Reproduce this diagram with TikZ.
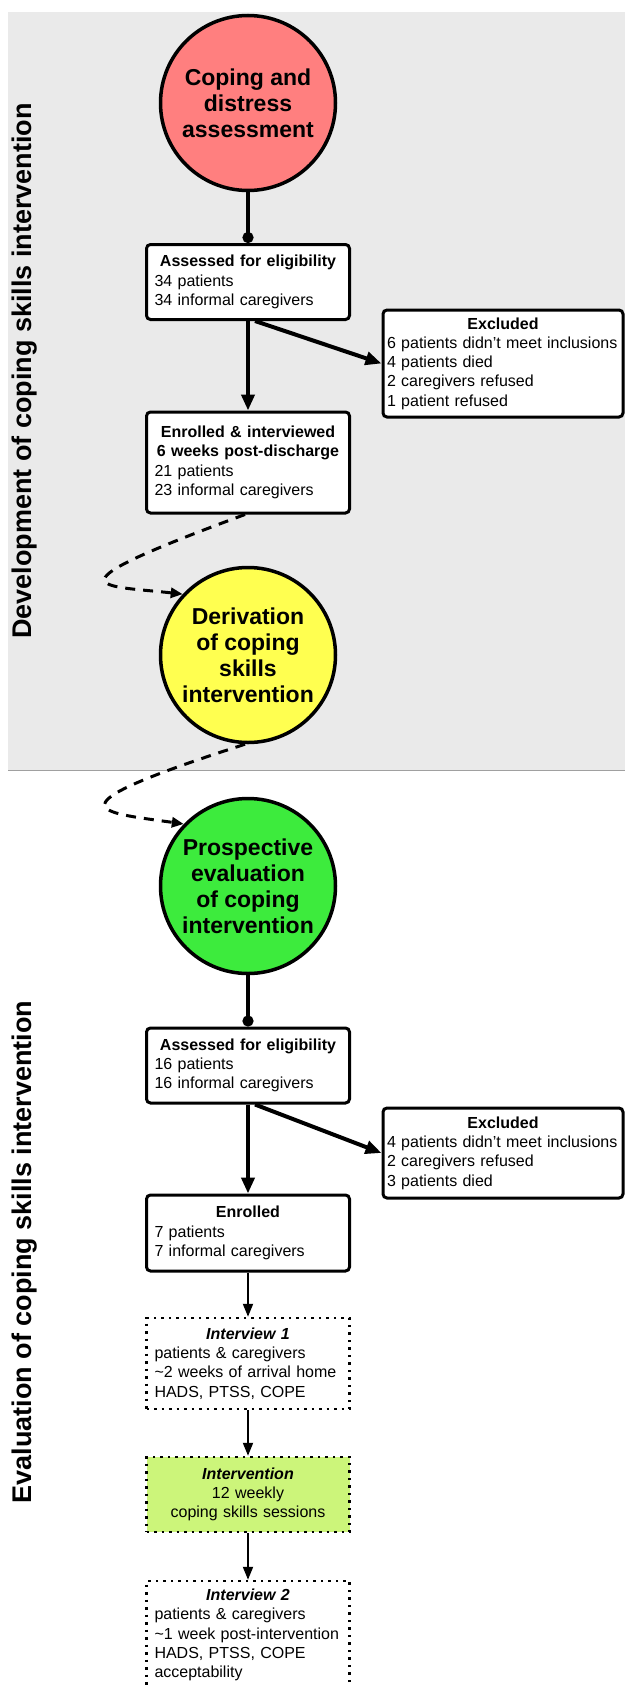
\documentclass[tikz,border=0pt]{standalone}
\usepackage{fontspec}
\setmainfont{Liberation Sans}
\usetikzlibrary{arrows.meta}
\definecolor{bggrey}{HTML}{EAEAEA}
\definecolor{sepgrey}{HTML}{A0A0A0}
\definecolor{redc}{HTML}{FF7F7F}
\definecolor{yelc}{HTML}{FFFF50}
\definecolor{grnc}{HTML}{3DEB3D}
\definecolor{limec}{HTML}{CCF57A}
\hyphenpenalty=10000
\exhyphenpenalty=10000
\newcommand\ctrline[1]{\hspace*{\fill}#1\hspace*{\fill}\null}
\begin{document}
\begin{tikzpicture}[x=1pt,y=-1pt,
  phase/.style={circle, draw=black, line width=3.5pt, minimum size=175pt, inner sep=0pt, align=center, font=\fontsize{23}{26}\selectfont\bfseries},
  solidbox/.style={draw=black, line width=3pt, rounded corners=4pt, fill=white, text width=187pt, inner xsep=8pt, inner ysep=0pt, align=left, font=\fontsize{16}{19.3}\selectfont},
  exclbox/.style={solidbox, text width=232pt, inner xsep=4pt},
  dotbox/.style={draw=black, line width=2.5pt, dash pattern=on 2.5pt off 5pt, fill=white, text width=187pt, inner xsep=8pt, inner ysep=0pt, align=left, font=\fontsize{16}{19.3}\selectfont},
  sidelabel/.style={rotate=90, font=\fontsize{27}{30}\selectfont\bfseries},
  thickarrow/.style={line width=4pt, -{Triangle[length=16pt,width=13pt]}},
  dotline/.style={line width=4pt, -{Circle[length=11pt]}},
  thinarrow/.style={line width=2pt, -{Triangle[length=13pt,width=10pt]}},
  dasharrow/.style={line width=3pt, dash pattern=on 10pt off 8pt, -{Triangle[length=12pt,width=10pt]}},
]
\useasboundingbox (0,0) rectangle (625,1686);
\clip (0,0) rectangle (625,1686);
\fill[bggrey] (8,12) rectangle (625,770);
\draw[sepgrey, line width=1pt] (8,770) -- (625,770);

\node[sidelabel] (lab1) at (25,371) {Development of coping skills intervention};
\node[sidelabel] (lab2) at (25,1252) {Evaluation of coping skills intervention};

\node[phase, fill=redc] (red) at (248,103) {Coping and\\distress\\assessment};
\node[solidbox, minimum height=75pt] (b1) at (248,282) {\ctrline{\textbf{Assessed for eligibility}}\\34 patients\\34 informal caregivers};
\node[exclbox, minimum height=107pt] (ex1) at (503,363.5) {\ctrline{\textbf{Excluded}}\\6 patients didn't meet inclusions\\4 patients died\\2 caregivers refused\\1 patient refused};
\node[solidbox, minimum height=101pt] (b2) at (248,462.5) {\ctrline{\textbf{Enrolled \& interviewed}}\\\ctrline{\textbf{6 weeks post-discharge}}\\21 patients\\23 informal caregivers};
\node[phase, fill=yelc] (yel) at (248,655) {Derivation\\of coping\\skills\\intervention};
\node[phase, fill=grnc] (grn) at (248,886) {Prospective\\evaluation\\of coping\\intervention};
\node[solidbox, minimum height=75pt] (b3) at (248,1065.5) {\ctrline{\textbf{Assessed for eligibility}}\\16 patients\\16 informal caregivers};
\node[exclbox, minimum height=90pt] (ex2) at (503,1153) {\ctrline{\textbf{Excluded}}\\4 patients didn't meet inclusions\\2 caregivers refused\\3 patients died};
\node[solidbox, minimum height=76pt] (b4) at (248,1233) {\ctrline{\textbf{Enrolled}}\\7 patients\\7 informal caregivers};
\node[dotbox, minimum height=91pt] (i1) at (248,1363.5) {\ctrline{\textbf{\textit{Interview 1}}}\\patients \& caregivers\\\textasciitilde2 weeks of arrival home\\HADS, PTSS, COPE};
\node[dotbox, fill=limec, align=center, minimum height=75pt] (iv) at (248,1494.5) {\textbf{\textit{Intervention}}\\12 weekly\\coping skills sessions};
\node[dotbox, minimum height=108pt] (i2) at (248,1635) {\ctrline{\textbf{\textit{Interview 2}}}\\patients \& caregivers\\\textasciitilde1 week post-intervention\\HADS, PTSS, COPE\\acceptability};

\draw[dotline] (red.south) -- (b1.north);
\draw[thickarrow] (b1.south) -- (b2.north);
\draw[thickarrow] ([xshift=7pt]b1.south) -- (ex1.west);
\draw[dasharrow] ([xshift=-3pt]b2.south) .. controls (40,590) and (100,585) .. (yel.137);
\draw[dasharrow] ([xshift=-3pt]yel.south) .. controls (40,810) and (100,812) .. (grn.136);
\draw[dotline] (grn.south) -- (b3.north);
\draw[thickarrow] (b3.south) -- (b4.north);
\draw[thickarrow] ([xshift=7pt]b3.south) -- (ex2.west);
\draw[thinarrow] (b4.south) -- (i1.north);
\draw[thinarrow] (i1.south) -- (iv.north);
\draw[thinarrow] (iv.south) -- (i2.north);
\end{tikzpicture}
\end{document}
